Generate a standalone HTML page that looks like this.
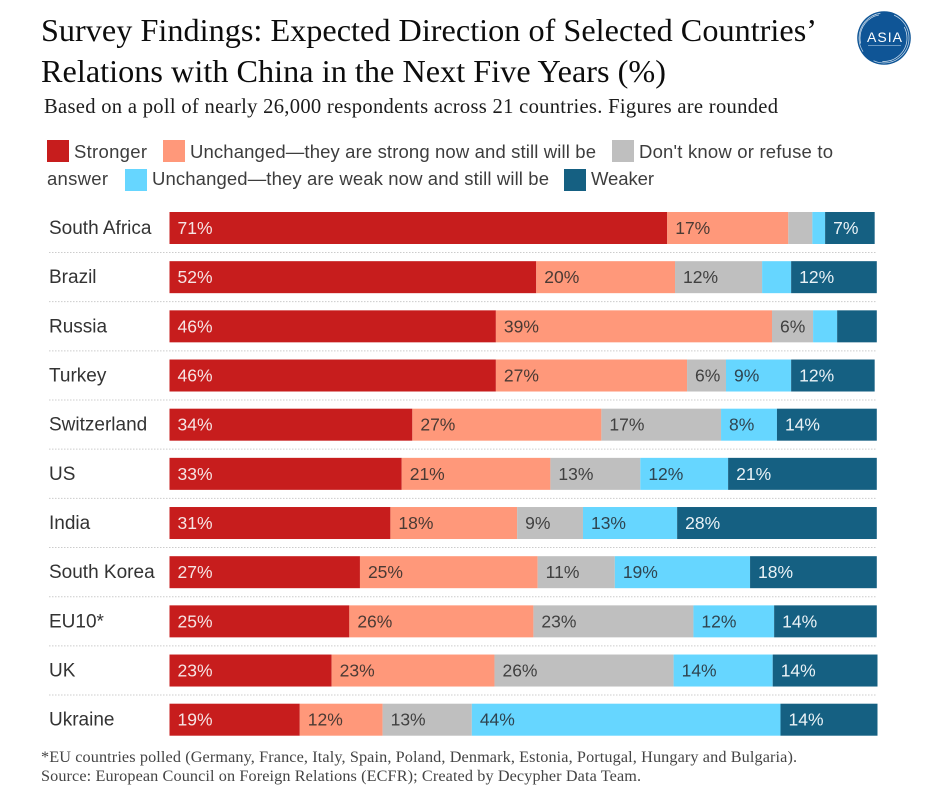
<!DOCTYPE html>
<html>
<head>
<meta charset="utf-8">
<style>
html,body{margin:0;padding:0;background:#fff;width:940px;height:788px;overflow:hidden}
svg{display:block}
.serif{font-family:"Liberation Serif",serif}
.sans{font-family:"Liberation Sans",sans-serif}
.legend-text{font-size:18.5px;fill:#3d3d3d}
</style>
</head>
<body>
<svg id="chart" width="940" height="788" viewBox="0 0 940 788" xmlns="http://www.w3.org/2000/svg">
  <rect x="0" y="0" width="940" height="788" fill="#ffffff"/>
  <text class="serif" x="41" y="41" font-size="32.2" fill="#0c0c0c" textLength="776">Survey Findings: Expected Direction of Selected Countries’</text>
  <text class="serif" x="41" y="82" font-size="32.2" fill="#0c0c0c" textLength="625">Relations with China in the Next Five Years (%)</text>
  <text class="serif" x="44" y="113" font-size="20.6" fill="#1c1c1c" textLength="734">Based on a poll of nearly 26,000 respondents across 21 countries. Figures are rounded</text>

  <g>
    <circle cx="884" cy="38" r="26.8" fill="#0f5596"/>
    <circle cx="884" cy="38" r="25" fill="none" stroke="#c9dcec" stroke-width="0.7" stroke-dasharray="50 14"/>
    <circle cx="883.5" cy="38" r="23.5" fill="none" stroke="#dbe8f3" stroke-width="0.7" stroke-dasharray="38 30"/>
    <text class="sans" x="884.5" y="42" font-size="14" fill="#ffffff" text-anchor="middle" textLength="35">ASIA</text>
    <line x1="868" y1="45.5" x2="901" y2="45.5" stroke="#8fb3d3" stroke-width="0.8"/>
  </g>

  <g>
    <rect x="47" y="140" width="22" height="22" fill="#c71d1d"/>
    <text class="sans legend-text" x="74" y="158" textLength="73">Stronger</text>
    <rect x="163" y="140" width="22" height="22" fill="#ff987a"/>
    <text class="sans legend-text" x="190" y="158" textLength="406">Unchanged—they are strong now and still will be</text>
    <rect x="612" y="140" width="22" height="22" fill="#bfbfbf"/>
    <text class="sans legend-text" x="639" y="158" textLength="194">Don't know or refuse to</text>
    <text class="sans legend-text" x="47" y="185" textLength="61">answer</text>
    <rect x="125" y="169" width="22" height="22" fill="#66d6ff"/>
    <text class="sans legend-text" x="152" y="185" textLength="397">Unchanged—they are weak now and still will be</text>
    <rect x="564" y="169" width="22" height="22" fill="#156082"/>
    <text class="sans legend-text" x="591" y="185" textLength="63">Weaker</text>
  </g>

  <g id="plot"></g>

  <text class="serif" x="41" y="762" font-size="16.2" fill="#444444" textLength="756">*EU countries polled (Germany, France, Italy, Spain, Poland, Denmark, Estonia, Portugal, Hungary and Bulgaria).</text>
  <text class="serif" x="41" y="781" font-size="16.2" fill="#444444" textLength="600">Source: European Council on Foreign Relations (ECFR); Created by Decypher Data Team.</text>
</svg>
<script>
const countries = ['South Africa','Brazil','Russia','Turkey','Switzerland','US','India','South Korea','EU10*','UK','Ukraine'];
const stronger = [70.3,51.8,46.1,46.1,34.3,32.8,31.2,26.9,25.4,22.9,18.4];
const unchangedStrong = [17.1,19.6,39,27,26.7,21,17.9,25.1,26,23,11.7];
const dontKnow = [3.4,12.3,5.8,5.5,16.9,12.7,9.3,10.9,22.6,25.3,12.6];
const unchangedWeak = [1.8,4.1,3.4,9.2,7.9,12.4,13.3,19.1,11.4,14,43.6];
const weaker = [7,12.1,5.6,11.8,14.1,21,28.2,17.9,14.5,14.8,13.7];
const strongerLabels = ['71%','52%','46%','46%','34%','33%','31%','27%','25%','23%','19%'];
const unchangedStrongLabels = ['17%','20%','39%','27%','27%','21%','18%','25%','26%','23%','12%'];
const dontKnowLabels = ['','12%','6%','6%','17%','13%','9%','11%','23%','26%','13%'];
const unchangedWeakLabels = ['','','','9%','8%','12%','13%','19%','12%','14%','44%'];
const weakerLabels = ['7%','12%','','12%','14%','21%','28%','18%','14%','14%','14%'];

const seriesValues = [stronger, unchangedStrong, dontKnow, unchangedWeak, weaker];
const seriesLabels = [strongerLabels, unchangedStrongLabels, dontKnowLabels, unchangedWeakLabels, weakerLabels];
const seriesNames = ['stronger','unchanged-strong','dont-know','unchanged-weak','weaker'];
const seriesColors = ['#c71d1d','#ff987a','#bfbfbf','#66d6ff','#156082'];
const labelColors = ['#f6e4e4','#4a3a34','#404040','#2f4450','#eaf2f6'];

const NS = 'http://www.w3.org/2000/svg';
const plot = document.getElementById('plot');
const xAxis = v => 169.5 + v * 7.08;
const yAxis = i => 212 + i * 49.17;
const BAR_H = 32;

countries.forEach((country, i) => {
  const name = document.createElementNS(NS, 'text');
  
  
  name.setAttribute('class', 'sans');
  name.setAttribute('x', 49);
  name.setAttribute('y', yAxis(i) + 22);
  name.setAttribute('font-size', '19');
  name.setAttribute('fill', '#333333');
  name.textContent = country;
  plot.appendChild(name);

  if (i < countries.length - 1) {
    const rule = document.createElementNS(NS, 'line');
    
    
    rule.setAttribute('x1', 49);
    rule.setAttribute('x2', 877);
    rule.setAttribute('y1', yAxis(i) + 40.5);
    rule.setAttribute('y2', yAxis(i) + 40.5);
    rule.setAttribute('stroke', '#cccccc');
    rule.setAttribute('stroke-width', '1');
    rule.setAttribute('stroke-dasharray', '1.5 1.5');
    plot.appendChild(rule);
  }

  let cum = 0;
  seriesValues.forEach((vals, s) => {
    const x0 = xAxis(cum);
    const x1 = xAxis(cum + vals[i]);
    const rect = document.createElementNS(NS, 'rect');
    
    
    rect.setAttribute('x', x0);
    rect.setAttribute('y', yAxis(i));
    rect.setAttribute('width', x1 - x0);
    rect.setAttribute('height', BAR_H);
    rect.setAttribute('fill', seriesColors[s]);
    plot.appendChild(rect);

    const label = seriesLabels[s][i];
    if (label) {
      const t = document.createElementNS(NS, 'text');
      
      
      t.setAttribute('class', 'sans');
      t.setAttribute('x', x0 + 8);
      t.setAttribute('y', yAxis(i) + 22);
      t.setAttribute('font-size', '17.5');
      t.setAttribute('fill', labelColors[s]);
      t.textContent = label;
      plot.appendChild(t);
    }
    cum += vals[i];
  });
});
</script>
</body>
</html>
